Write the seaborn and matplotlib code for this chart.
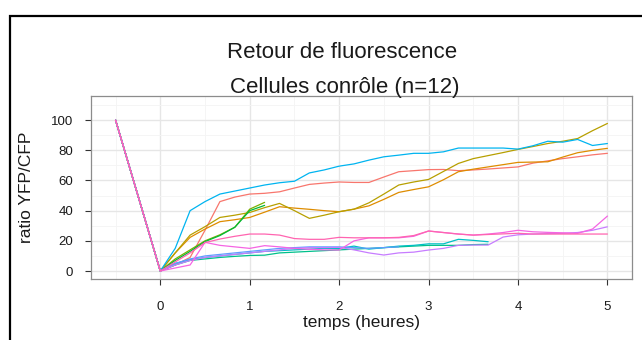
import matplotlib
matplotlib.use("Agg")
import matplotlib.pyplot as plt
from matplotlib.patches import Rectangle
from matplotlib.ticker import MultipleLocator
import pandas as pd
import seaborn as sns

# sampling times (hours): one pre-bleach point, then every 10 minutes
times = [-0.5, 0.0, 1/6, 2/6, 3/6, 4/6, 5/6, 1.0, 7/6, 8/6, 9/6, 10/6, 11/6, 2.0,
         13/6, 14/6, 15/6, 16/6, 17/6, 3.0, 19/6, 20/6, 21/6, 22/6, 23/6, 4.0,
         25/6, 26/6, 27/6, 28/6, 29/6, 5.0]

cell_01 = [100, 0, 4, 9, 27, 46, 49, 51, 51.5, 52.5, 55, 57.4, 58.3, 59,
           58.7, 58.7, 62.3, 65.8, 66.5, 67.2, 67.3, 66.5, 67, 67.6, 68.3, 69,
           71.5, 73, 74.5, 75.7, 77, 78]
cell_02 = [100, 0, 12, 22.3, 27.8, 32.7, 34, 35.5, 39, 42.6, 41.7, 40.9, 40, 39.3,
           41, 43.2, 47.5, 52.1, 54, 55.8, 60.5, 65.8, 67.5, 69, 70.5, 72,
           72.2, 72.4, 75.5, 78.4, 80, 81.3]
cell_03 = [100, 0, 12, 23.8, 29.4, 35.5, 37, 38.8, 42, 44.8, 40, 34.9, 37, 39.3,
           41, 45.2, 51, 57, 59, 60.7, 66, 71.3, 74.5, 76.5, 78.5, 80.6,
           82.5, 84.5, 86, 87.8, 93, 97.8]
cell_04 = [100, 0, 8, 14, 20, 24, 29, 41, 45.5]
cell_05 = [100, 0, 7, 13, 19.5, 23.5, 29, 40, 43.5]
cell_06 = [100, 0, 4, 7, 8, 9, 9.7, 10.3, 10.5, 12, 12.5, 13, 13.5, 14,
           14.5, 15, 15.5, 16, 16.5, 17, 17, 17, 17.5, 17.7]
cell_07 = [100, 0, 5, 7.5, 9, 10, 11, 12, 13, 13.5, 14, 14.5, 15, 15,
           16.5, 14.5, 15.5, 16.5, 17, 18, 18, 21, 20.3, 19.4]
cell_08 = [100, 0, 15, 40, 46, 51, 53, 55, 57, 58.5, 59.5, 65, 67, 69.5,
           71, 73.5, 75.7, 76.8, 78, 78, 79, 81.5, 81.5, 81.5, 81.5, 80.8,
           83, 86, 85.4, 87.2, 83.2, 84.5]
cell_09 = [100, 0, 5, 8, 10, 11, 12, 13, 14, 15, 15.5, 16, 16, 16,
           15.5, 15, 15.5, 16]
cell_10 = [100, 0, 4, 7, 9, 10, 11, 12, 13, 14, 15, 15.5, 15.5, 15.7,
           14, 12, 10.6, 12, 12.5, 13.9, 15, 17, 17.2, 17.2, 22.5, 24,
           24.5, 24.8, 25, 25.5, 27, 29.3]
cell_11 = [100, 0, 2, 4, 19, 17, 16, 15, 16.8, 16, 15, 14.4, 14, 13.9,
           20, 22, 22, 22, 23, 26.5, 25.5, 24.5, 23.8, 24.5, 25.5, 27,
           26, 25.6, 25.3, 25, 27.8, 36.4]
cell_12 = [100, 0, 6, 12, 18.8, 21.2, 23, 24.5, 24.5, 23.8, 21.5, 21, 21, 22.3,
           22, 22, 22, 22.3, 23.5, 26.5, 25.5, 24.5, 23.8, 24.2, 24.6, 25,
           24.5, 24.5, 24.5, 24.5, 24.5, 24.5]

cells = [cell_01, cell_02, cell_03, cell_04, cell_05, cell_06,
         cell_07, cell_08, cell_09, cell_10, cell_11, cell_12]
palette = ["#F8766D", "#DE8C00", "#B79F00", "#7CAE00", "#00BA38", "#00C08B",
           "#00BFC4", "#00B4F0", "#619CFF", "#C77CFF", "#F564E3", "#FF64B0"]

rows = []
for i, vals in enumerate(cells):
    for t, v in zip(times, vals):
        rows.append({"cellule": f"c{i + 1}", "temps": t, "ratio": v})
df = pd.DataFrame(rows)

sns.set_theme(style="white")
plt.rcParams["font.family"] = ["Liberation Sans", "DejaVu Sans"]

fig = plt.figure(figsize=(6.42, 3.40), dpi=100)
ax = fig.add_axes([91 / 642, 1 - 279 / 340, (632 - 91) / 642, (279 - 96) / 340])

sns.lineplot(data=df, x="temps", y="ratio", hue="cellule", palette=palette,
             estimator=None, sort=False, linewidth=0.9, legend=False, ax=ax)

ax.set_xlim(-0.775, 5.275)
ax.set_ylim(-5.3, 116)
ax.xaxis.set_major_locator(MultipleLocator(1))
ax.xaxis.set_minor_locator(MultipleLocator(0.5))
ax.yaxis.set_minor_locator(MultipleLocator(10))
ax.set_yticks([0, 20, 40, 60, 80, 100])

ax.grid(which="major", color="#E6E6E6", linewidth=1.0)
ax.grid(which="minor", color="#F4F4F4", linewidth=0.6)
ax.set_axisbelow(True)
for s in ax.spines.values():
    s.set_color("#8C8C8C")
    s.set_linewidth(0.9)

ax.tick_params(which="major", direction="out", length=4, width=0.8,
               color="#333333", labelsize=9.5, labelcolor="#1A1A1A",
               bottom=True, left=True)
ax.tick_params(axis="x", pad=12)
ax.tick_params(axis="y", pad=9)
ax.tick_params(which="minor", length=0)

ax.set_xlabel("temps (heures)", fontsize=12.5, labelpad=1, color="#1A1A1A")
ax.set_ylabel("ratio YFP/CFP", fontsize=12.5, labelpad=12, color="#1A1A1A")

fig.text(342 / 642, 1 - 52 / 340, "Retour de fluorescence", ha="center",
         va="center", fontsize=16, color="#1A1A1A")
fig.text(345 / 642, 1 - 88 / 340, "Cellules conrôle (n=12)", ha="center",
         va="center", fontsize=16, color="#1A1A1A")

fig.patches.append(Rectangle((10 / 642, -0.1), 1.2, 1.1 - 16 / 340,
                             transform=fig.transFigure, fill=False,
                             edgecolor="black", linewidth=1.6))

fig.savefig("out.png", dpi=100)
